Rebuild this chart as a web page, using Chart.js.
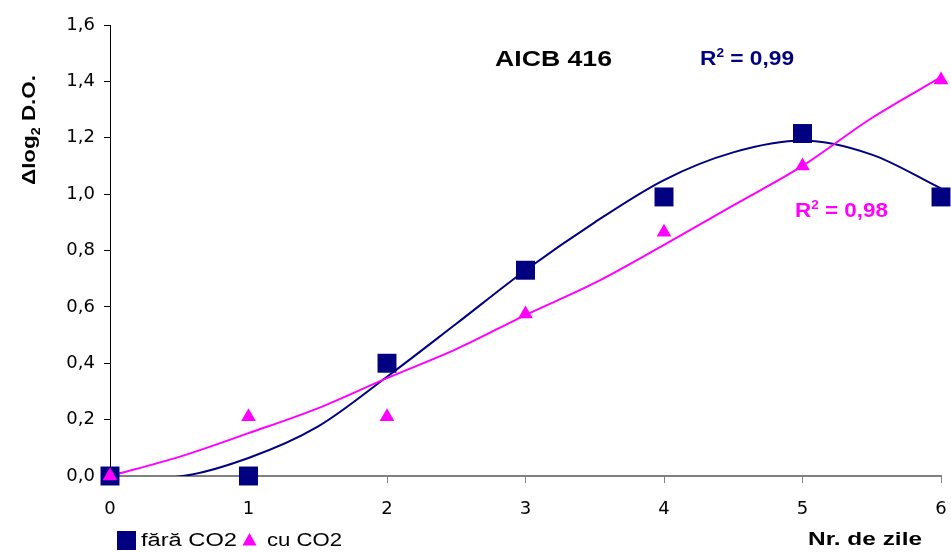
<!DOCTYPE html>
<html>
<head>
<meta charset="utf-8">
<script src="https://cdn.jsdelivr.net/npm/chart.js@4.4.1/dist/chart.umd.min.js"></script>
<style>
  html, body { margin: 0; padding: 0; background: #ffffff; }
  #wrap { width: 951px; height: 552px; }
</style>
</head>
<body>
<div id="wrap"><canvas id="c" width="951" height="552"></canvas></div>
<script>
// ---- data ----
const days = [0, 1, 2, 3, 4, 5, 6];
const faraCO2 = [0, 0, 0.40, 0.73, 0.99, 1.215, 0.99];
const cuCO2 = [0, 0.21, 0.21, 0.575, 0.865, 1.10, 1.405];

// trendline curves (as drawn in the reference, read every 0.5 day)
const trendDays = [0, 0.5, 1, 1.5, 2, 2.5, 3, 3.5, 4, 4.5, 5, 5.5, 6];
const trendFara = [-0.012, -0.002, 0.064, 0.175, 0.352, 0.54, 0.73, 0.90, 1.05, 1.148, 1.19, 1.14, 1.02];
const trendCu = [0, 0.068, 0.152, 0.24, 0.347, 0.45, 0.571, 0.685, 0.82, 0.96, 1.10, 1.27, 1.415];

const yTicksMin = 0, yTicksMax = 1.6, yStep = 0.2;
const xTicksMin = 0, xTicksMax = 6, xStep = 1;

const seriesNames = ['fără CO2', 'cu CO2'];
const chartTitle = 'AICB 416';
const xTitle = 'Nr. de zile';

const NAVY = '#000080';
const MAGENTA = '#FF00FF';

const toPts = (xs, ys) => xs.map((x, i) => ({ x: x, y: ys[i] }));

// draw a row of text pieces stretched to a target width
function drawRich(ctx, parts, x, y, targetW, color, align) {
  ctx.save();
  ctx.fillStyle = color;
  ctx.textBaseline = 'alphabetic';
  let total = 0;
  parts.forEach(p => { ctx.font = p.font; p.w = ctx.measureText(p.t).width; total += p.w; });
  const sx = targetW ? targetW / total : 1;
  let start = x;
  if (align === 'center') start = x - total * sx / 2;
  else if (align === 'right') start = x - total * sx;
  ctx.translate(start, y);
  ctx.scale(sx, 1);
  let cx = 0;
  parts.forEach(p => {
    ctx.font = p.font;
    ctx.textAlign = 'left';
    ctx.fillText(p.t, cx, p.dy || 0);
    cx += p.w;
  });
  ctx.restore();
}

const B = (s) => 'bold ' + s + 'px "Liberation Sans", Arial, sans-serif';
const N = (s) => s + 'px "Liberation Sans", Arial, sans-serif';

// keep the plot area's right edge 10px from the canvas edge (markers may overflow)
const areaPlugin = {
  id: 'area',
  afterLayout(chart) {
    const target = chart.width - 10;
    const x = chart.scales.x;
    chart.chartArea.right = target;
    chart.chartArea.width = target - chart.chartArea.left;
    x.right = target;
    x.width = target - x.left;
    x.configure();
  }
};

const annotPlugin = {
  id: 'annot',
  afterDraw(chart) {
    const ctx = chart.ctx;
    // title
    drawRich(ctx, [{ t: chartTitle, font: B(22) }], 495, 66, 117, '#000000', 'left');
    // R² labels
    drawRich(ctx, [{ t: 'R', font: B(20) }, { t: '2', font: B(12), dy: -8 }, { t: ' = 0,99', font: B(20) }], 700, 65, 94, NAVY, 'left');
    drawRich(ctx, [{ t: 'R', font: B(20) }, { t: '2', font: B(12), dy: -8 }, { t: ' = 0,98', font: B(20) }], 795, 217, 93, MAGENTA, 'left');
    // x axis title
    drawRich(ctx, [{ t: xTitle, font: B(19) }], 808, 545, 114, '#000000', 'left');
    // y axis title (rotated)
    ctx.save();
    ctx.translate(35, 130);
    ctx.rotate(-Math.PI / 2);
    drawRich(ctx, [{ t: 'Δlog', font: B(19) }, { t: '2', font: B(12), dy: 5 }, { t: ' D.O.', font: B(19) }], 0, 0, 110, '#000000', 'center');
    ctx.restore();
    // legend
    ctx.save();
    ctx.fillStyle = NAVY;
    ctx.fillRect(117, 531, 19, 19);
    ctx.fillStyle = MAGENTA;
    ctx.beginPath();
    ctx.moveTo(249.5, 533);
    ctx.lineTo(256.5, 545.5);
    ctx.lineTo(242.5, 545.5);
    ctx.closePath();
    ctx.fill();
    ctx.restore();
    drawRich(ctx, [{ t: seriesNames[0], font: N(18) }], 141, 546, 96, '#000000', 'left');
    drawRich(ctx, [{ t: seriesNames[1], font: N(18) }], 267, 546, 75, '#000000', 'left');
  }
};

const tickFont = { family: '"DejaVu Sans", "Liberation Sans", sans-serif', size: 18 };

const ctx = document.getElementById('c').getContext('2d');
new Chart(ctx, {
  type: 'scatter',
  data: {
    datasets: [
      {
        label: seriesNames[1],
        data: toPts(days, cuCO2),
        pointStyle: 'triangle',
        pointRadius: 8.5,
        pointHoverRadius: 8.5,
        backgroundColor: MAGENTA,
        borderColor: MAGENTA,
        borderWidth: 0,
        showLine: false,
        clip: false
      },
      {
        label: seriesNames[0],
        data: toPts(days, faraCO2),
        pointStyle: 'rect',
        pointRadius: 13.4,
        pointHoverRadius: 13.4,
        backgroundColor: NAVY,
        borderColor: NAVY,
        borderWidth: 0,
        showLine: false,
        clip: false
      },
      {
        label: 'trend ' + seriesNames[1],
        data: toPts(trendDays, trendCu),
        showLine: true,
        pointRadius: 0,
        borderColor: MAGENTA,
        borderWidth: 2,
        cubicInterpolationMode: 'monotone',
        fill: false
      },
      {
        label: 'trend ' + seriesNames[0],
        data: toPts(trendDays, trendFara),
        showLine: true,
        pointRadius: 0,
        borderColor: NAVY,
        borderWidth: 2,
        cubicInterpolationMode: 'monotone',
        fill: false
      }
    ]
  },
  options: {
    responsive: false,
    animation: false,
    layout: { padding: { left: 0, right: 10, top: 25, bottom: 0 } },
    plugins: {
      legend: { display: false },
      tooltip: { enabled: false },
      title: { display: false }
    },
    scales: {
      x: {
        type: 'linear',
        min: xTicksMin,
        max: xTicksMax,
        ticks: {
          stepSize: xStep,
          color: '#000000',
          font: tickFont,
          padding: 16,
          maxRotation: 0
        },
        grid: { drawOnChartArea: false, drawTicks: true, tickLength: 7, color: '#808080', lineWidth: 1 },
        border: { display: true, color: '#808080', width: 2 },
        afterFit(scale) { scale.height = 76; scale.paddingRight = 0; scale.paddingLeft = 0; }
      },
      y: {
        type: 'linear',
        min: yTicksMin,
        max: yTicksMax,
        ticks: {
          stepSize: yStep,
          color: '#000000',
          font: tickFont,
          padding: 9,
          callback: (v) => Number(v).toFixed(1).replace('.', ',')
        },
        grid: { drawOnChartArea: false, drawTicks: true, tickLength: 6, color: '#000000', lineWidth: 1 },
        border: { display: true, color: '#000000', width: 1 },
        afterFit(scale) { scale.width = 110; scale.paddingTop = 0; scale.paddingBottom = 0; }
      }
    }
  },
  plugins: [areaPlugin, annotPlugin]
});
</script>
</body>
</html>
